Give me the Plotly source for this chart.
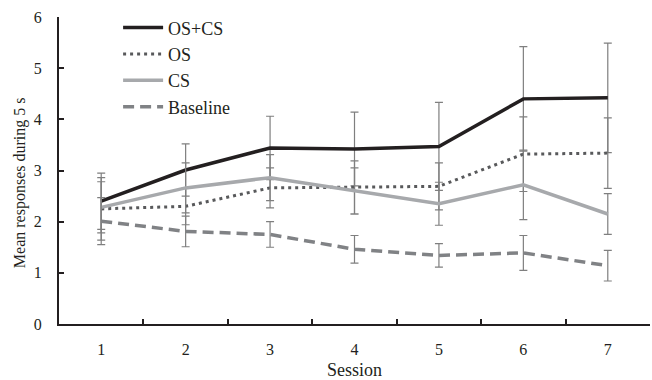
import plotly.graph_objects as go

sessions = ["1", "2", "3", "4", "5", "6", "7"]

os_cs = [2.40, 3.01, 3.44, 3.42, 3.47, 4.40, 4.42]
os_cs_err = [0.55, 0.51, 0.62, 0.72, 0.86, 1.02, 1.07]

os_only = [2.25, 2.30, 2.66, 2.67, 2.69, 3.32, 3.34]
os_err = [0.61, 0.36, 0.39, 0.52, 0.46, 0.73, 0.69]

cs_only = [2.28, 2.66, 2.86, 2.60, 2.35, 2.72, 2.15]
cs_err = [0.50, 0.49, 0.45, 0.45, 0.42, 0.68, 0.40]

baseline = [2.01, 1.81, 1.75, 1.46, 1.34, 1.39, 1.14]
baseline_err = [0.46, 0.30, 0.25, 0.27, 0.23, 0.34, 0.30]

y_title = "Mean responses during 5 s"
x_title = "Session"

ERR_COLOR = "#7f7f7f"
TXT = "#231f20"
FONT = "Liberation Serif"

def err(vals):
    return dict(type="data", array=vals, visible=True, color=ERR_COLOR,
                thickness=1.2, width=4)

fig = go.Figure()
fig.add_trace(go.Scatter(x=sessions, y=os_cs, name="OS+CS", mode="lines",
                         line=dict(color="#231f20", width=3.5),
                         error_y=err(os_cs_err)))
fig.add_trace(go.Scatter(x=sessions, y=os_only, name="OS", mode="lines",
                         line=dict(color="#58595b", width=3, dash="3px,4px"),
                         error_y=err(os_err)))
fig.add_trace(go.Scatter(x=sessions, y=cs_only, name="CS", mode="lines",
                         line=dict(color="#a7a9ac", width=3.5),
                         error_y=err(cs_err)))
fig.add_trace(go.Scatter(x=sessions, y=baseline, name="Baseline", mode="lines",
                         line=dict(color="#808285", width=3.5, dash="11px,6px"),
                         error_y=err(baseline_err)))

fig.update_layout(
    width=652, height=380,
    margin=dict(l=59, r=2, t=17, b=56),
    paper_bgcolor="white", plot_bgcolor="white",
    font=dict(family=FONT, size=16, color=TXT),
    showlegend=True,
    legend=dict(x=0.1, y=1.025, xanchor="left", yanchor="top",
                bgcolor="rgba(0,0,0,0)", font=dict(size=18, family=FONT, color=TXT),
                itemwidth=40, tracegroupgap=0),
    xaxis=dict(type="category", range=[-0.5, 6.5], tickson="boundaries", ticks="inside", ticklen=5,
               tickwidth=1.5, tickcolor=TXT, showline=True, linecolor=TXT, linewidth=2,
               showgrid=False, zeroline=False, ticklabelstandoff=10,
               tickfont=dict(size=16, family=FONT, color=TXT),
               title=dict(text=x_title, font=dict(size=18, family=FONT, color=TXT), standoff=6)),
    yaxis=dict(range=[0, 6], tickvals=[0, 1, 2, 3, 4, 5, 6], ticks="inside", ticklen=5,
               tickwidth=1.5, tickcolor=TXT, showline=True, linecolor=TXT, linewidth=2,
               showgrid=False, zeroline=False, ticklabelstandoff=12,
               tickfont=dict(size=16, family=FONT, color=TXT)),
    annotations=[dict(text=y_title, textangle=-90, xref="paper", yref="paper",
                      x=-0.066, y=0.462, xanchor="center", yanchor="middle",
                      showarrow=False, font=dict(size=16, family=FONT, color=TXT))],
)

fig.write_html("out.html")
